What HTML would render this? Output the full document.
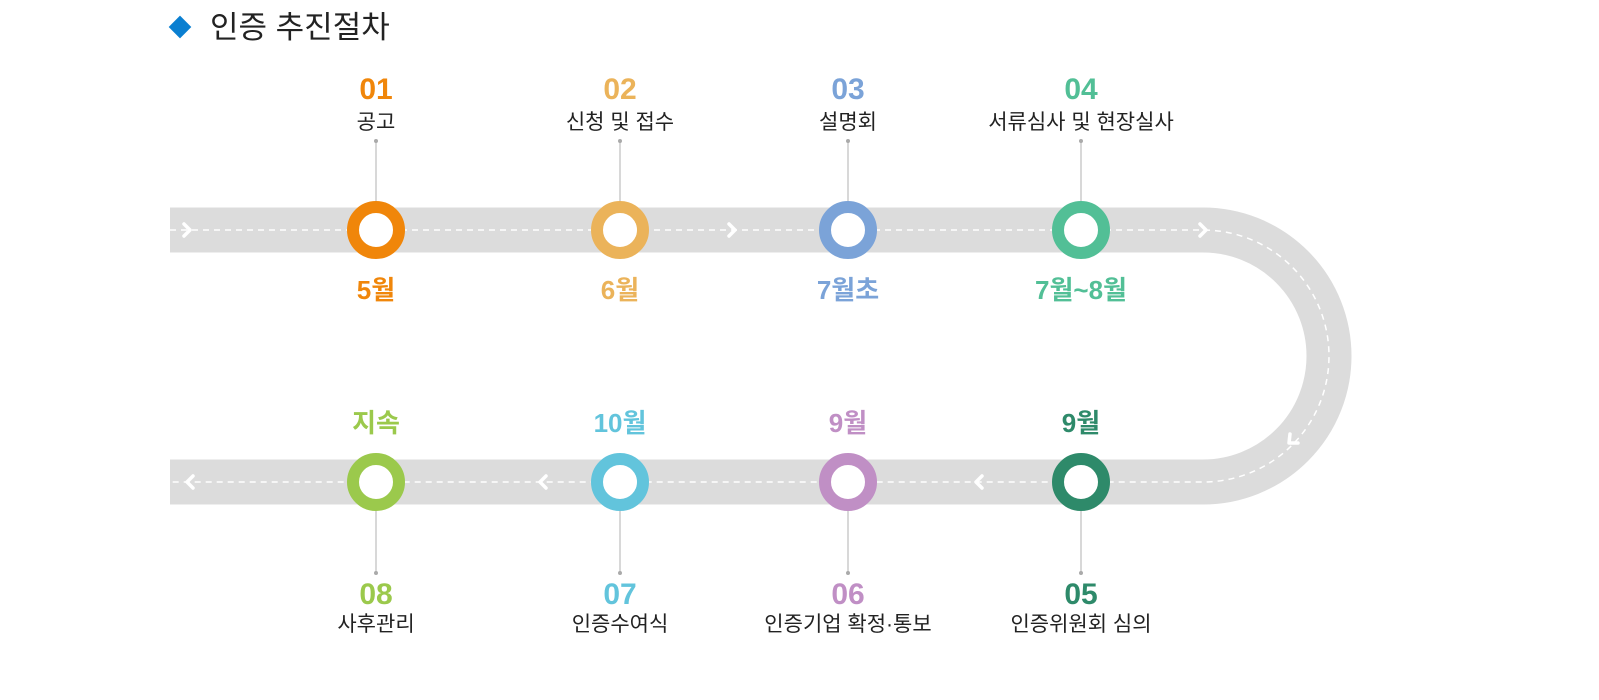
<!DOCTYPE html>
<html><head><meta charset="utf-8"><style>
html,body{margin:0;padding:0;background:#fff;}
body{width:1599px;height:700px;position:relative;overflow:hidden;font-family:"Liberation Sans","Noto Sans CJK KR",sans-serif;}
.t{position:absolute;transform:translateX(-50%);white-space:nowrap;text-align:center;}
.n{font-family:"Liberation Sans Narrow","Liberation Sans","Noto Sans CJK KR",sans-serif;font-weight:bold;font-size:30px;line-height:30px;}
.l{font-size:21px;line-height:24px;color:#222;}
.m{font-weight:bold;font-size:26px;line-height:30px;font-family:"Liberation Sans Narrow","Liberation Sans","Noto Sans CJK KR",sans-serif;}
</style></head><body>
<svg width="1599" height="700" style="position:absolute;left:0;top:0">
<path d="M170 230 H1203 A126 126 0 0 1 1203 482 H170" fill="none" stroke="#dcdcdc" stroke-width="45"/>
<path d="M170 230 H1203 A126 126 0 0 1 1203 482 H170" fill="none" stroke="#fff" stroke-width="1.5" stroke-dasharray="6 5"/>
<g fill="none" stroke="#fff" stroke-width="3.5" stroke-linecap="round" stroke-linejoin="round">
<path d="M184 224 l6 6 -6 6"/><path d="M729 224 l6 6 -6 6"/><path d="M1200 224 l6 6 -6 6"/>
<path d="M193 476 l-6 6 6 6"/><path d="M546 476 l-6 6 6 6"/><path d="M982 476 l-6 6 6 6"/>
<path d="M1290 434 l-1 9 9 0"/>
</g>
<g stroke="#c4c4c4" stroke-width="1.3" fill="#aaa">
<line x1="376" y1="141" x2="376" y2="201"/><circle cx="376" cy="141" r="2" stroke="none"/>
<line x1="620" y1="141" x2="620" y2="201"/><circle cx="620" cy="141" r="2" stroke="none"/>
<line x1="848" y1="141" x2="848" y2="201"/><circle cx="848" cy="141" r="2" stroke="none"/>
<line x1="1081" y1="141" x2="1081" y2="201"/><circle cx="1081" cy="141" r="2" stroke="none"/>
<line x1="376" y1="511" x2="376" y2="573"/><circle cx="376" cy="573" r="2" stroke="none"/>
<line x1="620" y1="511" x2="620" y2="573"/><circle cx="620" cy="573" r="2" stroke="none"/>
<line x1="848" y1="511" x2="848" y2="573"/><circle cx="848" cy="573" r="2" stroke="none"/>
<line x1="1081" y1="511" x2="1081" y2="573"/><circle cx="1081" cy="573" r="2" stroke="none"/>
</g>
<g fill="#fff" stroke-width="12">
<circle cx="376" cy="230" r="23" stroke="#f0860a"/>
<circle cx="620" cy="230" r="23" stroke="#ebb35a"/>
<circle cx="848" cy="230" r="23" stroke="#7ba3d8"/>
<circle cx="1081" cy="230" r="23" stroke="#52bf96"/>
<circle cx="376" cy="482" r="23" stroke="#9bc94c"/>
<circle cx="620" cy="482" r="23" stroke="#62c4dc"/>
<circle cx="848" cy="482" r="23" stroke="#c08fc5"/>
<circle cx="1081" cy="482" r="23" stroke="#2e8a6a"/>
</g>
<rect x="172" y="19" width="16" height="16" fill="#0a7fd1" transform="rotate(45 180 27)"/>
</svg>
<div style="position:absolute;left:210px;top:8px;font-size:31px;line-height:40px;color:#222;">인증 추진절차</div>

<div class="t n" style="left:376px;top:75px;color:#f0860a">01</div>
<div class="t l" style="left:376px;top:111px">공고</div>
<div class="t m" style="left:376px;top:275px;color:#f0860a">5월</div>
<div class="t n" style="left:620px;top:75px;color:#ebb35a">02</div>
<div class="t l" style="left:620px;top:111px">신청 및 접수</div>
<div class="t m" style="left:620px;top:275px;color:#ebb35a">6월</div>
<div class="t n" style="left:848px;top:75px;color:#7ba3d8">03</div>
<div class="t l" style="left:848px;top:111px">설명회</div>
<div class="t m" style="left:848px;top:275px;color:#7ba3d8">7월초</div>
<div class="t n" style="left:1081px;top:75px;color:#52bf96">04</div>
<div class="t l" style="left:1081px;top:111px">서류심사 및 현장실사</div>
<div class="t m" style="left:1081px;top:275px;color:#52bf96">7월~8월</div>

<div class="t m" style="left:376px;top:408px;color:#9bc94c">지속</div>
<div class="t n" style="left:376px;top:580px;color:#9bc94c">08</div>
<div class="t l" style="left:376px;top:613px">사후관리</div>
<div class="t m" style="left:620px;top:408px;color:#62c4dc">10월</div>
<div class="t n" style="left:620px;top:580px;color:#62c4dc">07</div>
<div class="t l" style="left:620px;top:613px">인증수여식</div>
<div class="t m" style="left:848px;top:408px;color:#c08fc5">9월</div>
<div class="t n" style="left:848px;top:580px;color:#c08fc5">06</div>
<div class="t l" style="left:848px;top:613px">인증기업 확정·통보</div>
<div class="t m" style="left:1081px;top:408px;color:#2e8a6a">9월</div>
<div class="t n" style="left:1081px;top:580px;color:#2e8a6a">05</div>
<div class="t l" style="left:1081px;top:613px">인증위원회 심의</div>
</body></html>
